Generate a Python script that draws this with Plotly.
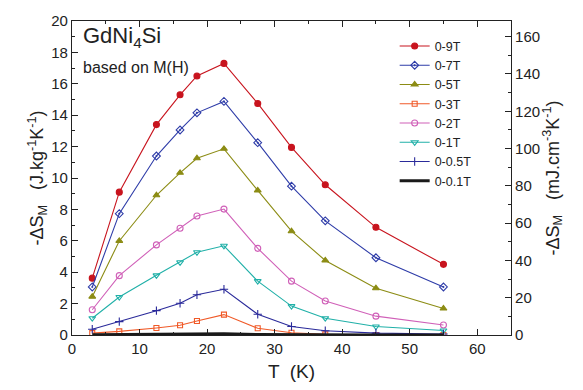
import plotly.graph_objects as go

T = [3, 7, 12.5, 16, 18.5, 22.5, 27.5, 32.5, 37.5, 45, 55]
s9 = [3.62, 9.1, 13.4, 15.3, 16.5, 17.3, 14.75, 11.95, 9.57, 6.86, 4.5]
s7 = [3.06, 7.73, 11.4, 13.06, 14.15, 14.88, 12.25, 9.48, 7.27, 4.92, 3.06]
s5 = [2.44, 5.99, 8.9, 10.33, 11.26, 11.86, 9.21, 6.61, 4.75, 2.98, 1.69]
s3 = [0.12, 0.23, 0.45, 0.62, 0.89, 1.3, 0.43, 0.14, 0.04, 0.0, 0.0]
s2 = [1.61, 3.78, 5.74, 6.8, 7.58, 8.02, 5.52, 3.43, 2.17, 1.2, 0.64]
s1 = [1.07, 2.42, 3.8, 4.63, 5.27, 5.68, 3.43, 1.84, 1.07, 0.54, 0.29]
s05 = [0.37, 0.85, 1.55, 2.02, 2.56, 2.91, 1.32, 0.54, 0.27, 0.12, 0.06]
s01 = [0.01, 0.02, 0.03, 0.04, 0.06, 0.08, 0.03, 0.01, 0.0, 0.0, 0.0]

series = [
    ("0-9T", s9, "#c8141e", "circle", 6),
    ("0-7T", s7, "#2e3ca8", "diamond-open-dot", 6),
    ("0-5T", s5, "#8c8c14", "triangle-up", 6),
    ("0-3T", s3, "#f05a28", "square-open", 5),
    ("0-2T", s2, "#d060b8", "circle-open", 6),
    ("0-1T", s1, "#20b0a8", "triangle-down-open", 6),
    ("0-0.5T", s05, "#2a2a9a", "cross-thin-open", 6),
]

fig = go.Figure()
for name, ys, col, sym, ms in series:
    fig.add_trace(go.Scatter(
        x=T, y=ys, name=name, mode="lines+markers",
        line=dict(color=col, width=1.1),
        marker=dict(symbol=sym, size=ms, color=col, line=dict(color=col, width=1.1)),
    ))
fig.add_trace(go.Scatter(x=T, y=s01, name="0-0.1T", mode="lines",
                         line=dict(color="#1a1a1a", width=3)))
fig.add_trace(go.Scatter(x=[0], y=[0], yaxis="y2", showlegend=False,
                         mode="markers", marker=dict(opacity=0), hoverinfo="skip"))

fnt = "Liberation Sans, Arial, sans-serif"
fig.update_layout(
    width=583, height=390,
    margin=dict(l=72, r=72, t=18, b=50),
    plot_bgcolor="white", paper_bgcolor="white",
    font=dict(family=fnt, size=15, color="#222"),
    showlegend=True,
    legend=dict(x=0.735, y=0.967, xanchor="left", yanchor="top",
                bgcolor="rgba(0,0,0,0)", font=dict(size=12.5),
                tracegroupgap=0, itemwidth=30),
    xaxis=dict(range=[0, 65], dtick=10, showline=True, linecolor="#222", linewidth=1.2,
               mirror="ticks", ticks="inside", ticklen=6, tickcolor="#222",
               minor=dict(ticks="inside", ticklen=3, dtick=5, tickcolor="#222"),
               showgrid=False, zeroline=False,
               title=dict(text="T  (K)", font=dict(size=19), standoff=8)),
    yaxis=dict(range=[0, 20], dtick=2, showline=True, linecolor="#222", linewidth=1.2,
               ticks="inside", ticklen=6, tickcolor="#222",
               minor=dict(ticks="inside", ticklen=3, dtick=1, tickcolor="#222"),
               showgrid=False, zeroline=False,
               title=dict(text="-ΔS<sub>M</sub>   (J.kg<sup>-1</sup>K<sup>-1</sup>)",
                          font=dict(size=18), standoff=2)),
    yaxis2=dict(range=[0, 168.4], dtick=20, overlaying="y", side="right",
                showline=True, linecolor="#222", linewidth=1.2,
                ticks="inside", ticklen=6, tickcolor="#222",
                minor=dict(ticks="inside", ticklen=3, dtick=10, tickcolor="#222"),
                showgrid=False, zeroline=False,
                title=dict(text="-ΔS<sub>M</sub>   (mJ.cm<sup>-3</sup>K<sup>-1</sup>)",
                           font=dict(size=18), standoff=6)),
    annotations=[
        dict(text="GdNi<sub>4</sub>Si", x=0.02, y=1.0, xref="paper", yref="paper",
             xanchor="left", yanchor="top", showarrow=False, font=dict(size=22)),
        dict(text="based on M(H)", x=0.02, y=0.885, xref="paper", yref="paper",
             xanchor="left", yanchor="top", showarrow=False, font=dict(size=16)),
    ],
)
fig.write_html("out.html")
